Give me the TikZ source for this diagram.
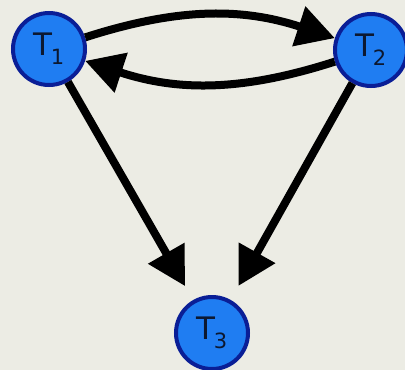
\documentclass[tikz,border=0pt]{standalone}
\usepackage{fontspec}
\setmainfont{DejaVu Sans}
\usetikzlibrary{arrows.meta}
\definecolor{bgc}{HTML}{ECECE4}
\definecolor{nodefill}{HTML}{1F7DF2}
\definecolor{nodeline}{HTML}{0A1E96}
\definecolor{txt}{HTML}{0C1830}
\newcommand{\tlab}[1]{T\kern-0.06em\raisebox{-0.28em}{\fontsize{21}{21}\selectfont #1}}
\tikzset{
  tnode/.style={circle, draw=nodeline, fill=nodefill, line width=4pt,
    minimum size=72pt, inner sep=0pt, text=txt, font=\fontsize{31}{31}\selectfont},
  link/.style={line width=8pt, -{Triangle[length=38pt,width=40pt]}}
}
\begin{document}
\begin{tikzpicture}[x=1pt,y=-1pt]
\fill[bgc] (0,0) rectangle (405,370);
\useasboundingbox (0,0) rectangle (405,370);
\node[tnode] (t1) at (49,49) {\tlab{1}};
\node[tnode] (t2) at (371,50) {\tlab{2}};
\node[tnode] (t3) at (212,333) {\tlab{3}};
\draw[link] (t1) to[bend left=18] (t2);
\draw[link] (t2) to[bend left=18] (t1);
\draw[link, shorten >=16pt] (t1) -- (t3);
\draw[link, shorten >=16pt] (t2) -- (t3);
\end{tikzpicture}
\end{document}
